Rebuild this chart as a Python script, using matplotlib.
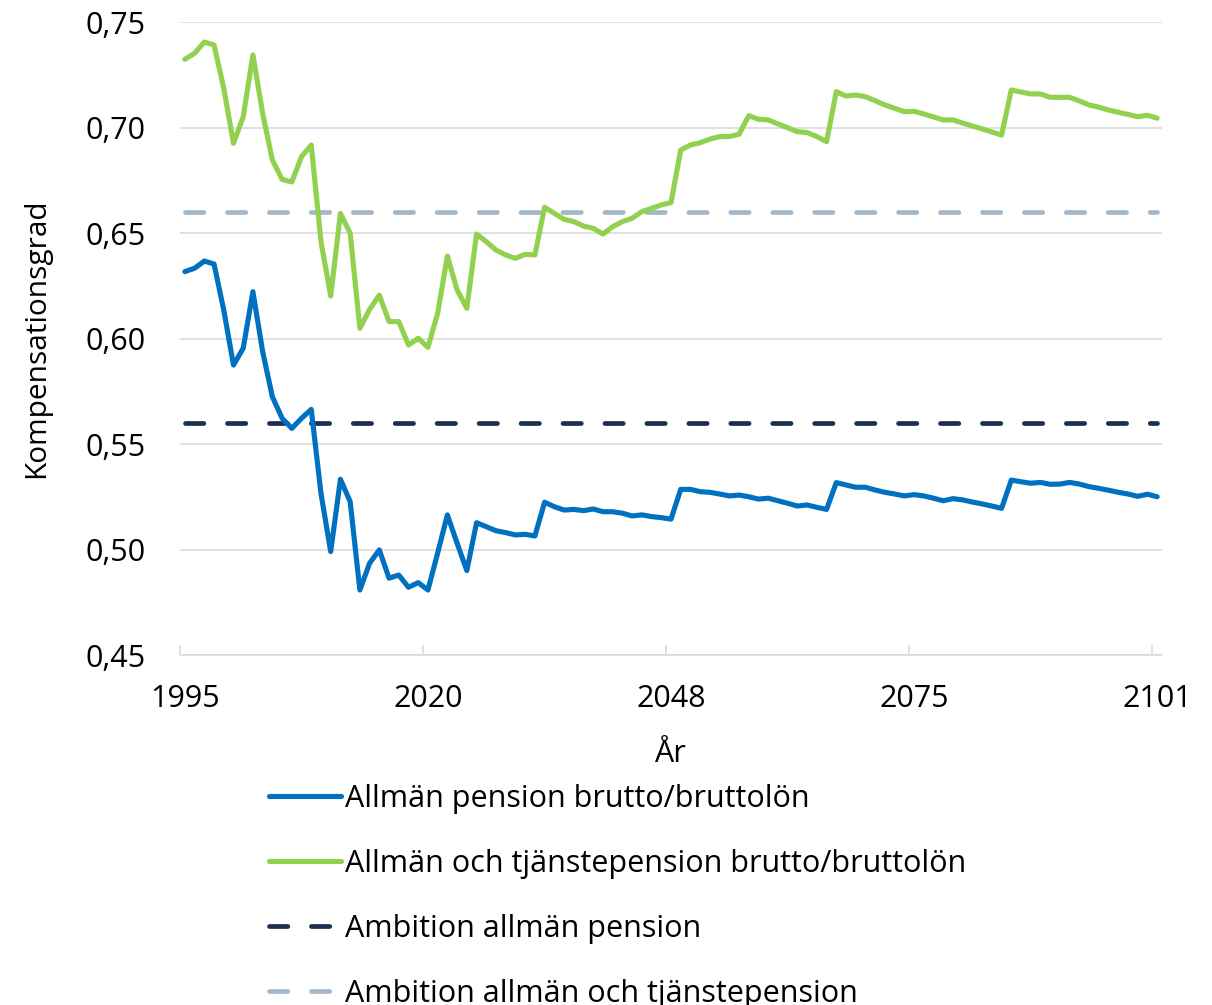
import matplotlib
matplotlib.use("Agg")
import matplotlib.pyplot as plt
import numpy as np

# ---------------------------------------------- #
# Data (annual)    #
# ---------------------------------------------- #
tick_labels = ["1995", "2020", "2048", "2075", "2101"]
tick_index = [0, 25, 50, 75, 100]

allman_tjanste = [
    0.7323, 0.7352, 0.7405, 0.7391, 0.7186, 0.6925, 0.7051, 0.7344, 0.7067, 0.6846,
    0.6754, 0.6742, 0.6862, 0.6917, 0.6459, 0.6201, 0.6593, 0.6499, 0.6048, 0.6138,
    0.6205, 0.6080, 0.6080, 0.5969, 0.6001, 0.5958, 0.6119, 0.6391, 0.6230, 0.6143,
    0.6495, 0.6459, 0.6419, 0.6396, 0.6380, 0.6399, 0.6396, 0.6622, 0.6593, 0.6565,
    0.6554, 0.6533, 0.6522, 0.6495, 0.6530, 0.6554, 0.6570, 0.6601, 0.6617, 0.6633,
    0.6644, 0.6893, 0.6917, 0.6928, 0.6945, 0.6957, 0.6957, 0.6968, 0.7056, 0.7039,
    0.7036, 0.7017, 0.6999, 0.6980, 0.6976, 0.6957, 0.6933, 0.7170, 0.7149, 0.7154,
    0.7146, 0.7127, 0.7107, 0.7091, 0.7075, 0.7077, 0.7064, 0.7050, 0.7036, 0.7036,
    0.7021, 0.7007, 0.6993, 0.6979, 0.6964, 0.7178, 0.7168, 0.7159, 0.7159, 0.7143,
    0.7143, 0.7143, 0.7126, 0.7107, 0.7096, 0.7083, 0.7072, 0.7062, 0.7051, 0.7058,
    0.7044,
]

allman = [
    0.6317, 0.6333, 0.6367, 0.6353, 0.6135, 0.5874, 0.5954, 0.6222, 0.5938, 0.5724,
    0.5622, 0.5574, 0.5622, 0.5664, 0.5266, 0.4990, 0.5333, 0.5227, 0.4808, 0.4935,
    0.4998, 0.4864, 0.4879, 0.4821, 0.4843, 0.4808, 0.4983, 0.5164, 0.5030, 0.4900,
    0.5127, 0.5108, 0.5089, 0.5080, 0.5069, 0.5072, 0.5064, 0.5224, 0.5203, 0.5187,
    0.5190, 0.5184, 0.5192, 0.5179, 0.5179, 0.5172, 0.5159, 0.5164, 0.5156, 0.5151,
    0.5144, 0.5285, 0.5285, 0.5274, 0.5271, 0.5263, 0.5254, 0.5258, 0.5250, 0.5239,
    0.5243, 0.5231, 0.5219, 0.5206, 0.5211, 0.5200, 0.5190, 0.5317, 0.5306, 0.5295,
    0.5295, 0.5282, 0.5271, 0.5263, 0.5254, 0.5260, 0.5254, 0.5243, 0.5231, 0.5241,
    0.5235, 0.5225, 0.5216, 0.5206, 0.5195, 0.5329, 0.5321, 0.5314, 0.5318, 0.5309,
    0.5310, 0.5318, 0.5310, 0.5298, 0.5290, 0.5281, 0.5271, 0.5263, 0.5252, 0.5262,
    0.5250,
]

ambition_allman = 0.56
ambition_tjanste = 0.66

series_labels = [
    "Allmän pension brutto/bruttolön",
    "Allmän och tjänstepension brutto/bruttolön",
    "Ambition allmän pension",
    "Ambition allmän och tjänstepension",
]

# ------------- #
#    Styling    #
# ------------- #
plt.rcParams["font.family"] = ["Open Sans", "DejaVu Sans"]
plt.rcParams["lines.scale_dashes"] = False

BLUE = "#0070C0"
GREEN = "#92D050"
NAVY = "#1C2F4F"
GREYBLUE = "#A3B7CB"
GRID = "#D9D9D9"
FS = 22

fig = plt.figure(figsize=(12.12, 10.05), dpi=100)
ax = fig.add_axes([180 / 1212, 1 - 655 / 1005, (1162 - 180) / 1212, (655 - 22) / 1005])

x = np.arange(len(allman))
lw = 3.7
dash = (13.2, 17.0)

ax.plot(x, allman, color=BLUE, lw=lw, solid_joinstyle="round", solid_capstyle="round",
        label=series_labels[0], zorder=4)
ax.plot(x, allman_tjanste, color=GREEN, lw=lw, solid_joinstyle="round", solid_capstyle="round",
        label=series_labels[1], zorder=4)
ax.plot(x, [ambition_allman] * len(x), color=NAVY, lw=3.4, dashes=dash,
        dash_capstyle="round", label=series_labels[2], zorder=3)
ax.plot(x, [ambition_tjanste] * len(x), color=GREYBLUE, lw=3.4, dashes=dash,
        dash_capstyle="round", label=series_labels[3], zorder=3)

ax.set_xlim(-0.5, len(x) - 0.5)
ax.set_ylim(0.45, 0.75)
ax.set_yticks(np.arange(0.45, 0.751, 0.05))
ax.set_yticklabels([f"{v:.2f}".replace(".", ",") for v in np.arange(0.45, 0.751, 0.05)])
ax.set_xticks(tick_index)
ax.set_xticklabels(tick_labels)
ax.set_xticks([i - 0.5 for i in tick_index], minor=True)

ax.grid(axis="y", color=GRID, lw=1.1, zorder=0)
ax.set_axisbelow(True)
for s in ["top", "right", "left"]:
    ax.spines[s].set_visible(False)
ax.spines["bottom"].set_color(GRID)
ax.spines["bottom"].set_linewidth(1.1)

ax.tick_params(axis="y", length=0, pad=25, labelsize=FS, labelcolor="black")
ax.tick_params(axis="x", which="major", length=0, pad=21, labelsize=FS, labelcolor="black")
ax.tick_params(axis="x", which="minor", direction="in", length=7.5, width=1.1, color=GRID)

ax.set_ylabel("Kompensationsgrad", fontsize=21.5)
ax.yaxis.set_label_coords(-0.131, 0.5)
ax.set_xlabel("År", fontsize=FS)
ax.xaxis.set_label_coords(0.499, -0.132)

fig.legend(loc="upper left", bbox_to_anchor=(269 / 1212, 1 - 784 / 1005), frameon=False,
           fontsize=FS, handlelength=2.35, handletextpad=0.13, labelspacing=1.14,
           borderpad=0, borderaxespad=0)

fig.savefig("out.png", dpi=100)
